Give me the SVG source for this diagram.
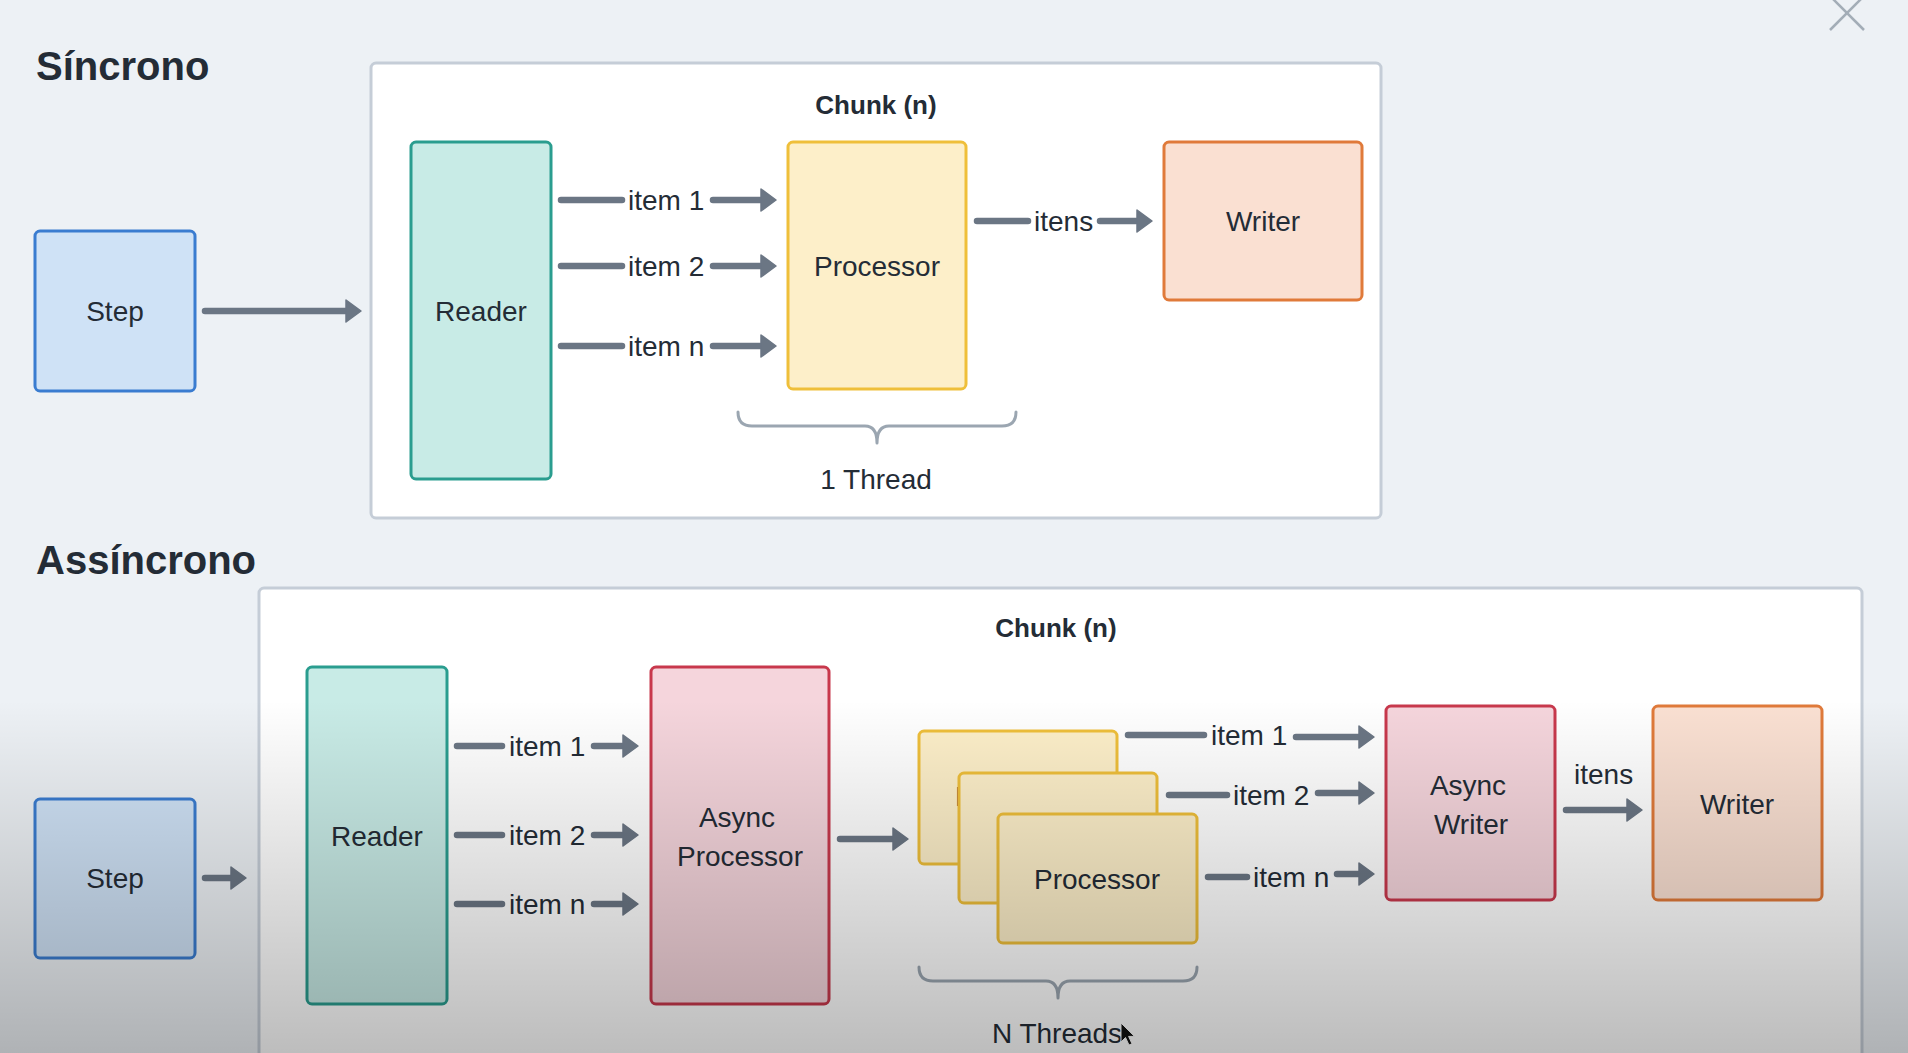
<svg xmlns="http://www.w3.org/2000/svg" width="1908" height="1053" viewBox="0 0 1908 1053">
  <style>
    text { font-family: "Liberation Sans", Arial, sans-serif; fill: #242c36; }
    .lbl { font-size: 28px; }
    .mid { text-anchor: middle; }
    .title { font-size: 40px; font-weight: bold; }
    .chunk { font-size: 26px; font-weight: bold; text-anchor: middle; }
    .frame { fill: #ffffff; stroke: #c5cdd7; stroke-width: 3; }
    .node rect { stroke-width: 3; }
    .step rect { fill: #cfe2f6; stroke: #3a7cd0; }
    .reader rect { fill: #c8ebe6; stroke: #2a9d8f; }
    .proc rect { fill: #fdefc9; stroke: #efbf3a; }
    .writer rect { fill: #fae0d2; stroke: #e07a3a; }
    .async rect { fill: #f5d5dc; stroke: #c8384c; }
    .edge { stroke: #6b7684; stroke-width: 6.5; stroke-linecap: round; fill: none; }
    .arrow { marker-end: url(#ah); }
    .brace { stroke: #9ba6b1; stroke-width: 3; fill: none; stroke-linecap: round; stroke-linejoin: round; }
  </style>
  <defs>
    <marker id="ah" markerUnits="userSpaceOnUse" markerWidth="18" markerHeight="26" viewBox="-1 -1 18 26" refX="2" refY="11" orient="auto">
      <path d="M0,0 L15,11 L0,22 Z" fill="#6b7684" stroke="#6b7684" stroke-width="1.5" stroke-linejoin="round"/>
    </marker>
    <linearGradient id="shade" x1="0" y1="0" x2="0" y2="1">
      <stop offset="0" stop-color="#000000" stop-opacity="0"/>
      <stop offset="1" stop-color="#000000" stop-opacity="0.26"/>
    </linearGradient>
  </defs>

  <rect x="0" y="0" width="1908" height="1053" fill="#edf1f5"/>

  <!-- close icon -->
  <g id="close-icon" stroke="#a3adb7" stroke-width="2.5">
    <line x1="1830" y1="-4" x2="1864" y2="30"/>
    <line x1="1864" y1="-4" x2="1830" y2="30"/>
  </g>

  <!-- ===== Síncrono ===== -->
  <text class="title" x="36" y="80">Síncrono</text>
  <g id="sync-chunk">
    <rect class="frame" x="371" y="63" width="1010" height="455" rx="5"/>
    <text class="chunk" x="876" y="114">Chunk (n)</text>
  </g>

  <g id="sync-step" class="node step">
    <rect x="35" y="231" width="160" height="160" rx="5"/>
    <text class="lbl mid" x="115" y="321">Step</text>
  </g>
  <g id="sync-reader" class="node reader">
    <rect x="411" y="142" width="140" height="337" rx="5"/>
    <text class="lbl mid" x="481" y="321">Reader</text>
  </g>
  <g id="sync-processor" class="node proc">
    <rect x="788" y="142" width="178" height="247" rx="5"/>
    <text class="lbl mid" x="877" y="276">Processor</text>
  </g>
  <g id="sync-writer" class="node writer">
    <rect x="1164" y="142" width="198" height="158" rx="5"/>
    <text class="lbl mid" x="1263" y="231">Writer</text>
  </g>

  <g id="sync-thread-brace">
    <path class="brace" d="M738,412 Q738,426 752,426 H865 Q877,426 877,443 Q877,426 889,426 H1002 Q1016,426 1016,412"/>
    <text class="lbl mid" x="876" y="489">1 Thread</text>
  </g>

  <g id="sync-connectors">
    <line class="edge arrow" x1="205" y1="311" x2="348" y2="311"/>
    <line class="edge" x1="561" y1="200" x2="622" y2="200"/>
    <text class="lbl" x="628" y="210">item 1</text>
    <line class="edge arrow" x1="713" y1="200" x2="763" y2="200"/>
    <line class="edge" x1="561" y1="266" x2="622" y2="266"/>
    <text class="lbl" x="628" y="276">item 2</text>
    <line class="edge arrow" x1="713" y1="266" x2="763" y2="266"/>
    <line class="edge" x1="561" y1="346" x2="622" y2="346"/>
    <text class="lbl" x="628" y="356">item n</text>
    <line class="edge arrow" x1="713" y1="346" x2="763" y2="346"/>
    <line class="edge" x1="977" y1="221" x2="1028" y2="221"/>
    <text class="lbl" x="1034" y="231">itens</text>
    <line class="edge arrow" x1="1100" y1="221" x2="1139" y2="221"/>
  </g>

  <!-- ===== Assíncrono ===== -->
  <text class="title" x="36" y="574">Assíncrono</text>
  <g id="async-chunk">
    <rect class="frame" x="259" y="588" width="1603" height="520" rx="5"/>
    <text class="chunk" x="1056" y="637">Chunk (n)</text>
  </g>

  <g id="async-step" class="node step">
    <rect x="35" y="799" width="160" height="159" rx="5"/>
    <text class="lbl mid" x="115" y="888">Step</text>
  </g>
  <g id="async-reader" class="node reader">
    <rect x="307" y="667" width="140" height="337" rx="5"/>
    <text class="lbl mid" x="377" y="846">Reader</text>
  </g>
  <g id="async-processor" class="node async">
    <rect x="651" y="667" width="178" height="337" rx="5"/>
    <text class="lbl mid" x="737" y="827">Async</text>
    <text class="lbl mid" x="740" y="866">Processor</text>
  </g>
  <g id="processor-thread-1" class="node proc">
    <rect x="919" y="731" width="198" height="133" rx="5"/>
    <text class="lbl mid" x="1018" y="806">Processor</text>
  </g>
  <g id="processor-thread-2" class="node proc">
    <rect x="959" y="773" width="198" height="130" rx="5"/>
    <text class="lbl mid" x="1058" y="849">Processor</text>
  </g>
  <g id="processor-thread-n" class="node proc">
    <rect x="998" y="814" width="199" height="129" rx="5"/>
    <text class="lbl mid" x="1097" y="889">Processor</text>
  </g>
  <g id="async-writer" class="node async">
    <rect x="1386" y="706" width="169" height="194" rx="5"/>
    <text class="lbl mid" x="1468" y="795">Async</text>
    <text class="lbl mid" x="1471" y="834">Writer</text>
  </g>
  <g id="async-final-writer" class="node writer">
    <rect x="1653" y="706" width="169" height="194" rx="5"/>
    <text class="lbl mid" x="1737" y="814">Writer</text>
  </g>

  <g id="async-thread-brace">
    <path class="brace" d="M919,967 Q919,981 933,981 H1046 Q1058,981 1058,998 Q1058,981 1070,981 H1183 Q1197,981 1197,967"/>
    <text class="lbl mid" x="1057" y="1043">N Threads</text>
  </g>

  <g id="async-connectors">
    <line class="edge arrow" x1="205" y1="878" x2="233" y2="878"/>
    <line class="edge" x1="457" y1="746" x2="502" y2="746"/>
    <text class="lbl" x="509" y="756">item 1</text>
    <line class="edge arrow" x1="594" y1="746" x2="625" y2="746"/>
    <line class="edge" x1="457" y1="835" x2="502" y2="835"/>
    <text class="lbl" x="509" y="845">item 2</text>
    <line class="edge arrow" x1="594" y1="835" x2="625" y2="835"/>
    <line class="edge" x1="457" y1="904" x2="502" y2="904"/>
    <text class="lbl" x="509" y="914">item n</text>
    <line class="edge arrow" x1="594" y1="904" x2="625" y2="904"/>

    <line class="edge arrow" x1="840" y1="839" x2="895" y2="839"/>

    <line class="edge" x1="1128" y1="735" x2="1204" y2="735"/>
    <text class="lbl" x="1211" y="745">item 1</text>
    <line class="edge arrow" x1="1296" y1="737" x2="1361" y2="737"/>
    <line class="edge" x1="1169" y1="795" x2="1227" y2="795"/>
    <text class="lbl" x="1233" y="805">item 2</text>
    <line class="edge arrow" x1="1318" y1="793" x2="1361" y2="793"/>
    <line class="edge" x1="1208" y1="877" x2="1247" y2="877"/>
    <text class="lbl" x="1253" y="887">item n</text>
    <line class="edge arrow" x1="1337" y1="874" x2="1361" y2="874"/>

    <text class="lbl" x="1574" y="784">itens</text>
    <line class="edge arrow" x1="1566" y1="810" x2="1629" y2="810"/>
  </g>

  <!-- mouse cursor -->
  <path d="M1121,1023 L1121,1042 L1125.5,1037.5 L1129,1045 L1132,1043.8 L1128.6,1036.4 L1134.5,1036.4 Z" fill="#111111" stroke="#ffffff" stroke-width="1"/>

  <!-- bottom shading -->
  <rect x="0" y="700" width="1908" height="353" fill="url(#shade)"/>
</svg>
